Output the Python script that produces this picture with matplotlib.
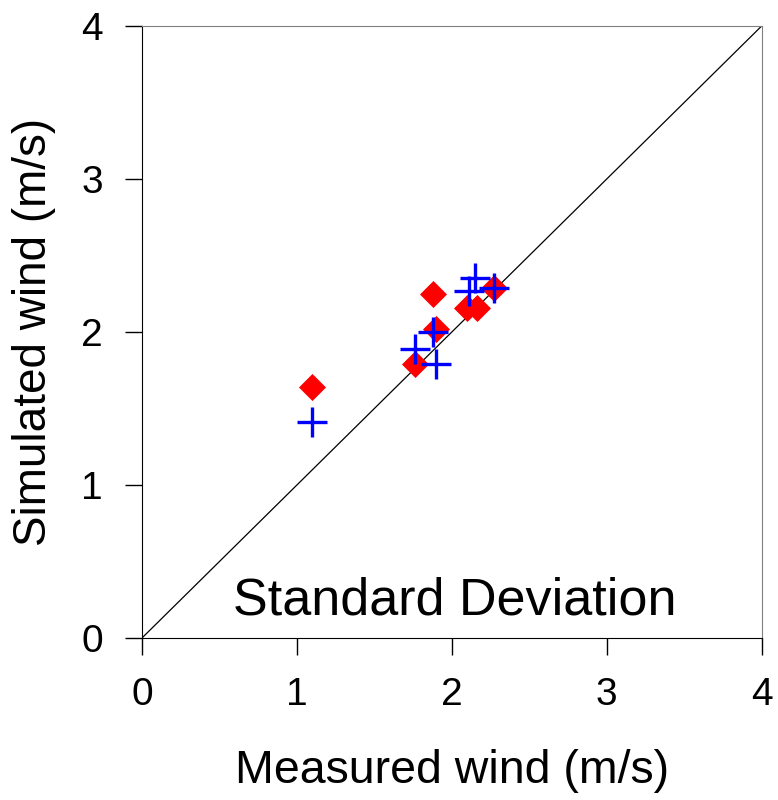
import matplotlib
matplotlib.use('Agg')
import matplotlib.pyplot as plt

# standard deviation of wind, measured vs simulated
meas_a = [1.10, 1.88, 1.90, 1.76, 2.10, 2.16, 2.27]
sim_a = [1.64, 2.25, 2.02, 1.79, 2.16, 2.16, 2.29]
meas_b = [1.10, 1.76, 1.88, 1.90, 2.11, 2.15, 2.27]
sim_b = [1.41, 1.89, 2.00, 1.79, 2.27, 2.35, 2.29]
ticks = [0, 1, 2, 3, 4]

plt.rcParams['font.family'] = ['Liberation Sans', 'DejaVu Sans']

fig = plt.figure(figsize=(7.78, 8.0), dpi=100)
ax = fig.add_axes([0.1825, 0.2025, 0.7965, 0.765])

ax.plot([0, 4], [0, 4], color='black', lw=0.9)
ax.scatter(meas_a, sim_a, marker='D', s=190, color='red', lw=0, zorder=3)
ax.scatter(meas_b, sim_b, marker='+', s=480, color='blue', lw=2.4, zorder=4)

ax.set_xlim(0, 4)
ax.set_ylim(0, 4)
ax.set_xticks(ticks)
ax.set_yticks(ticks)
ax.tick_params(direction='out', length=12, width=1, labelsize=28, pad=16)
for s in ['top', 'right']:
    ax.spines[s].set_color('#808080')
for s in ['left', 'bottom']:
    ax.spines[s].set_color('black')

ax.set_xlabel('Measured wind (m/s)', fontsize=33.5, labelpad=26)
ax.set_ylabel('Simulated wind (m/s)', fontsize=33, labelpad=18)
ax.text(2.02, 0.08, 'Standard Deviation', fontsize=37.5, ha='center', va='bottom')

fig.savefig('out.png', dpi=100)
